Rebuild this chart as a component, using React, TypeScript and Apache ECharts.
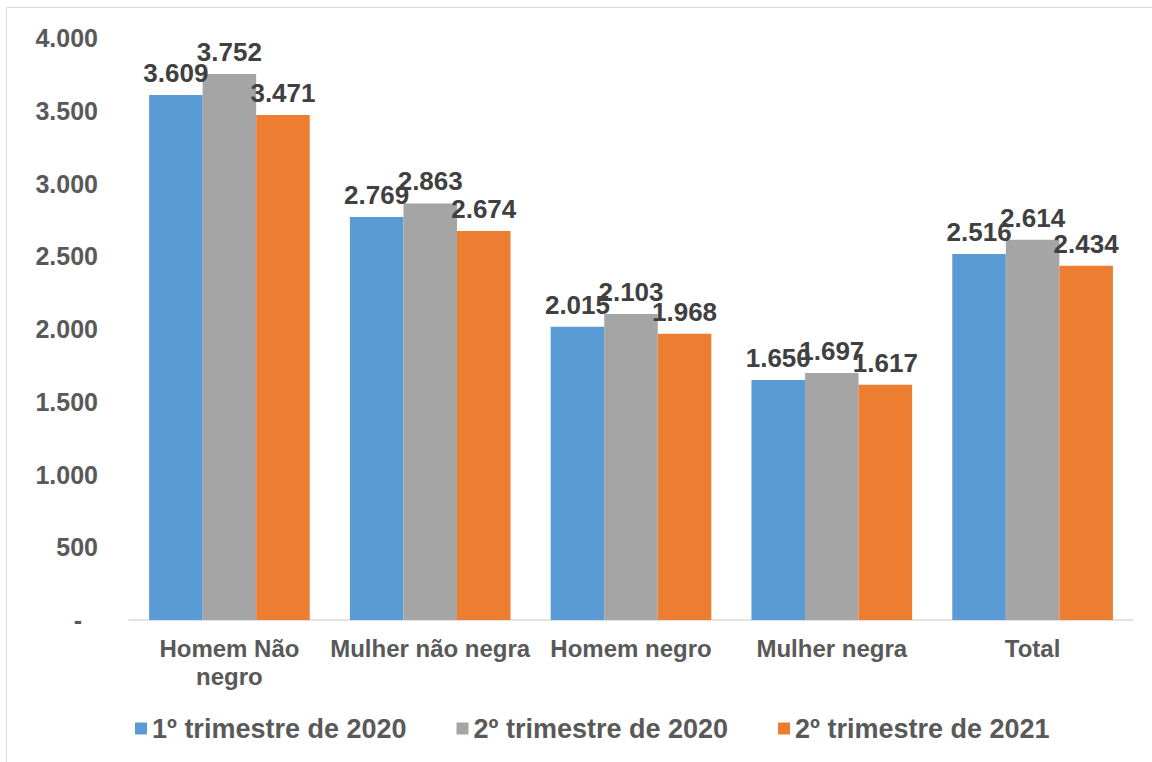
import React, { useEffect, useRef } from "react";
import * as echarts from "echarts";

const categories = ["Homem Não\nnegro", "Mulher não negra", "Homem negro", "Mulher negra", "Total"];
const seriesNames = ["1º trimestre de 2020", "2º trimestre de 2020", "2º trimestre de 2021"];
const q1_2020 = [3609, 2769, 2015, 1650, 2516];
const q2_2020 = [3752, 2863, 2103, 1697, 2614];
const q2_2021 = [3471, 2674, 1968, 1617, 2434];
const colors = ["#5B9BD5", "#A5A5A5", "#ED7D31"];

const fmt = (v: number) => {
  const s = String(Math.round(v));
  return s.replace(/\B(?=(\d{3})+(?!\d))/g, ".");
};

const FONT = "'Liberation Sans', Arial, sans-serif";

export default function App() {
  const ref = useRef<HTMLDivElement>(null);
  useEffect(() => {
    if (!ref.current) return;
    const chart = echarts.init(ref.current, undefined, { renderer: "svg" });
    const data = [q1_2020, q2_2020, q2_2021];
    chart.setOption({
      animation: false,
      backgroundColor: "#ffffff",
      textStyle: { fontFamily: FONT },
      grid: { left: 129, right: 19, top: 38, bottom: 142, containLabel: false },
      graphic: [
        {
          type: "rect",
          shape: { x: 6.5, y: 7.5, width: 1300, height: 900 },
          style: { fill: "none", stroke: "#D9D9D9", lineWidth: 1 },
          silent: true,
        },
      ],
      legend: {
        bottom: 15,
        left: 130,
        itemWidth: 12,
        itemHeight: 12,
        itemGap: 50,
        icon: "rect",
        textStyle: { fontSize: 27, fontWeight: "bold", color: "#595959", fontFamily: FONT, padding: [0, 0, 0, 0] },
        data: seriesNames,
      },
      xAxis: {
        type: "category",
        data: categories,
        axisLine: { show: true, lineStyle: { color: "#D9D9D9", width: 1.5 } },
        axisTick: { show: false },
        axisLabel: {
          fontSize: 24,
          fontWeight: "bold",
          color: "#595959",
          fontFamily: FONT,
          margin: 14,
          lineHeight: 28,
          interval: 0,
        },
      },
      yAxis: {
        type: "value",
        min: 0,
        max: 4000,
        interval: 500,
        splitLine: { show: false },
        axisLine: { show: false },
        axisTick: { show: false },
        axisLabel: {
          fontSize: 25,
          fontWeight: "bold",
          color: "#595959",
          fontFamily: FONT,
          margin: 31,
          formatter: (v: number) => (v === 0 ? "{d|-}" : fmt(v)),
          rich: {
            d: {
              fontSize: 25,
              fontWeight: "bold",
              color: "#595959",
              fontFamily: FONT,
              padding: [0, 16, 0, 0],
            },
          },
        },
      },
      series: seriesNames.map((name, i) => ({
        name,
        type: "bar",
        data: data[i],
        barGap: "0%",
        barCategoryGap: "20%",
        itemStyle: { color: colors[i] },
        label: {
          show: true,
          position: "top",
          distance: 9,
          fontSize: 26,
          fontWeight: "bold",
          color: "#404040",
          fontFamily: FONT,
          formatter: (p: any) => fmt(p.value),
        },
      })),
    });
    return () => chart.dispose();
  }, []);
  return (
    <div
      ref={ref}
      style={{ position: "fixed", left: 0, top: 0, width: 1152, height: 762 }}
    />
  );
}
